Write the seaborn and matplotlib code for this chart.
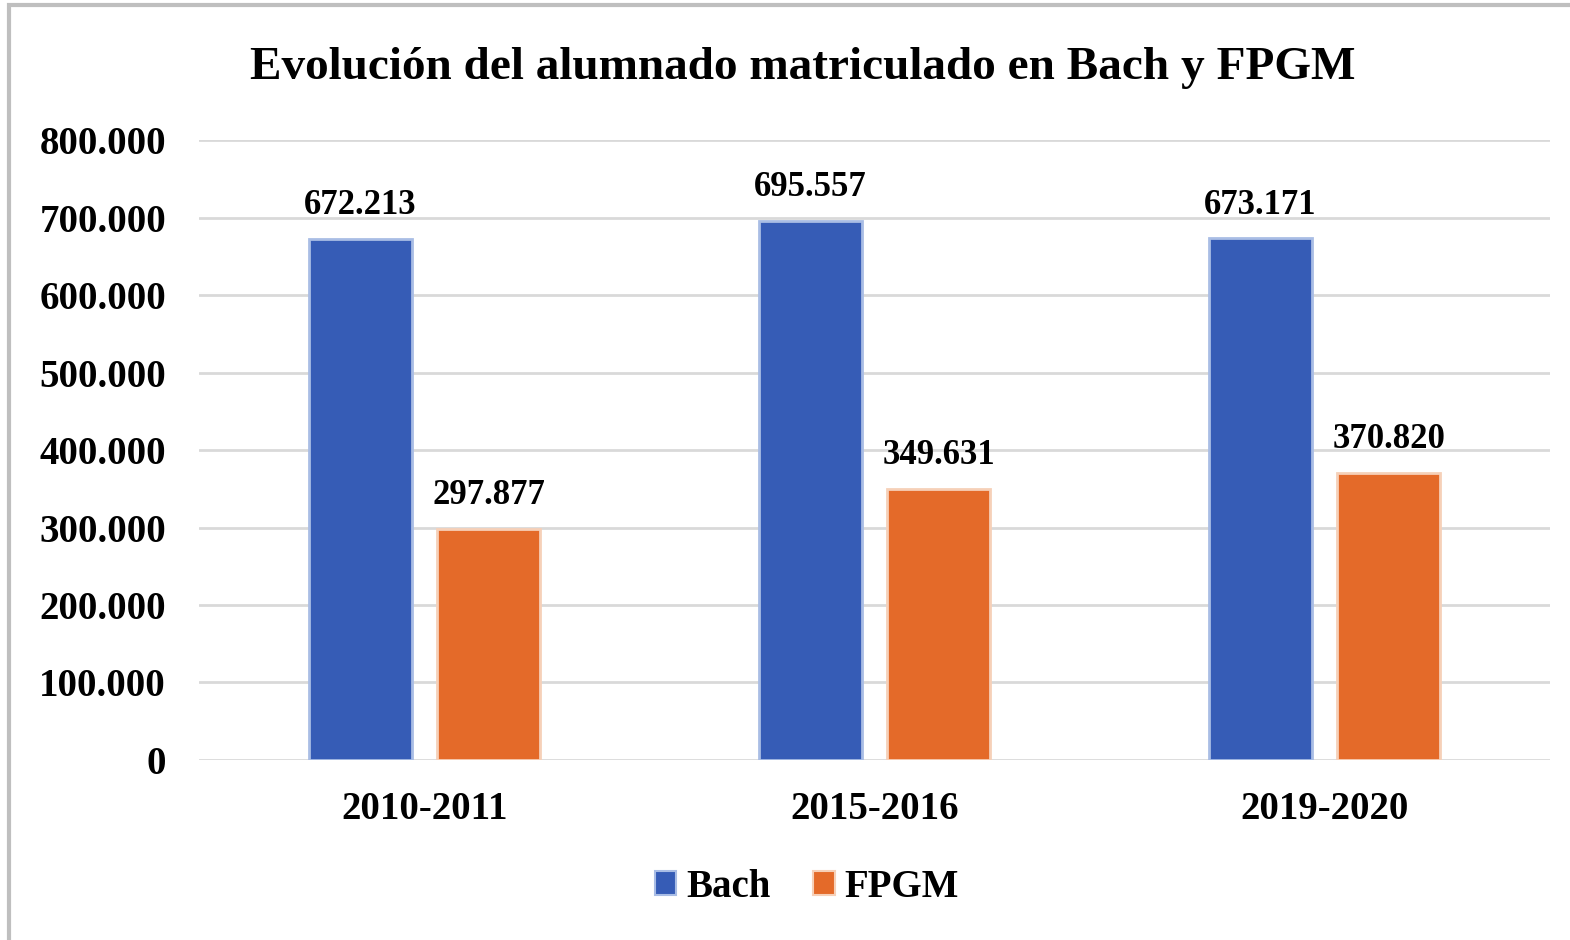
import pandas as pd
import numpy as np
import matplotlib
matplotlib.use('Agg')
import matplotlib.pyplot as plt
import matplotlib.patches as mpatches
from matplotlib.ticker import FuncFormatter
import seaborn as sns

years = ['2010-2011', '2015-2016', '2019-2020']
bach = [672213, 695557, 673171]
fpgm = [297877, 349631, 370820]
series_names = ['Bach', 'FPGM']
colors = ['#365CB6', '#E46A29']
edge_colors = ['#A9BDE5', '#F6D0B8']

df = pd.DataFrame({
    'curso': years * 2,
    'serie': [series_names[0]] * 3 + [series_names[1]] * 3,
    'valor': bach + fpgm,
})

sns.set_theme(style='white')
plt.rcParams['font.family'] = ['Liberation Serif', 'DejaVu Serif']
plt.rcParams['font.weight'] = 'bold'
plt.rcParams['text.color'] = 'black'
plt.rcParams['xtick.color'] = 'black'
plt.rcParams['ytick.color'] = 'black'

fig = plt.figure(figsize=(15.7, 9.4), dpi=100)
ax = fig.add_axes([0.127, 0.1915, 0.86, 0.6595])

sns.barplot(data=df, x='curso', y='valor', hue='serie', palette=colors,
            width=0.57, gap=0.2, ax=ax, legend=False, errorbar=None,
            linewidth=2, saturation=1)
for cont, ec in zip(ax.containers, edge_colors):
    for b in cont:
        b.set_edgecolor(ec)
    ax.bar_label(cont, labels=[f'{v:,.0f}'.replace(',', '.') for v in cont.datavalues],
                 padding=12, fontsize=25, fontweight='bold', color='black')

ax.set_ylim(0, 800000)
ax.set_xlim(-0.5, 2.5)
ax.set_yticks(np.arange(0, 800001, 100000))
ax.yaxis.set_major_formatter(FuncFormatter(lambda v, p: f'{v:,.0f}'.replace(',', '.')))
ax.grid(axis='y', color='#D9D9D9', linewidth=2)
ax.set_axisbelow(True)
for s in ax.spines.values():
    s.set_visible(False)
ax.tick_params(axis='both', length=0, labelsize=28, labelcolor='black')
ax.tick_params(axis='y', pad=24)
ax.tick_params(axis='x', pad=22)
for lab in ax.get_xticklabels() + ax.get_yticklabels():
    lab.set_fontweight('bold')
ax.set_xlabel('')
ax.set_ylabel('')

fig.text(0.511, 0.928, 'Evolución del alumnado matriculado en Bach y FPGM',
         ha='center', va='center', fontsize=34, fontweight='bold', color='black')

handles = [mpatches.Patch(facecolor=c, edgecolor=ec, linewidth=1.5, label=n)
           for c, ec, n in zip(colors, edge_colors, series_names)]
fig.legend(handles=handles, loc='center', bbox_to_anchor=(0.514, 0.056), ncol=2,
           frameon=False, fontsize=28, handlelength=0.55, handleheight=0.55,
           handletextpad=0.25, columnspacing=1.1)

fig.add_artist(mpatches.Rectangle((0.006, -0.01), 1.0, 1.005, transform=fig.transFigure,
                                  fill=False, edgecolor='#BFBFBF', linewidth=3))

plt.savefig('out.png', dpi=100)
plt.close()
